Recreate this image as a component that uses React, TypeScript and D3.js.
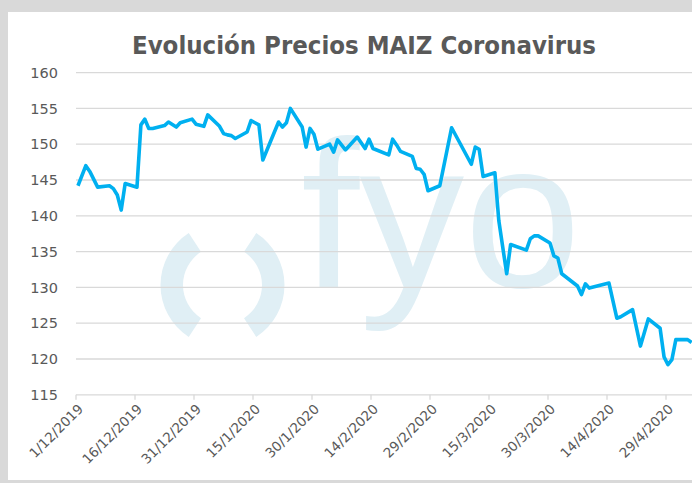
import React, { useEffect, useRef } from 'react';
import * as d3 from 'd3';

const dates = [
    '2019-12-01', '2019-12-03', '2019-12-04', '2019-12-06', '2019-12-09', '2019-12-10', '2019-12-11',
    '2019-12-12', '2019-12-13', '2019-12-16', '2019-12-17', '2019-12-18', '2019-12-19', '2019-12-20',
    '2019-12-23', '2019-12-24', '2019-12-26', '2019-12-27', '2019-12-30', '2019-12-31',
    '2020-01-02', '2020-01-03', '2020-01-06', '2020-01-07', '2020-01-08', '2020-01-09', '2020-01-10',
    '2020-01-13', '2020-01-14', '2020-01-15', '2020-01-16', '2020-01-17', '2020-01-21', '2020-01-22',
    '2020-01-23', '2020-01-24', '2020-01-27', '2020-01-28', '2020-01-29', '2020-01-30', '2020-01-31',
    '2020-02-03', '2020-02-04', '2020-02-05', '2020-02-07', '2020-02-10', '2020-02-12', '2020-02-13',
    '2020-02-14', '2020-02-18', '2020-02-19', '2020-02-20', '2020-02-21', '2020-02-24', '2020-02-25',
    '2020-02-26', '2020-02-27', '2020-02-28', '2020-03-02', '2020-03-05', '2020-03-10', '2020-03-11',
    '2020-03-12', '2020-03-13', '2020-03-16', '2020-03-17', '2020-03-19', '2020-03-20', '2020-03-24',
    '2020-03-25', '2020-03-26', '2020-03-27', '2020-03-30', '2020-03-31', '2020-04-01', '2020-04-02',
    '2020-04-06', '2020-04-07', '2020-04-08', '2020-04-09', '2020-04-14', '2020-04-16', '2020-04-17',
    '2020-04-20', '2020-04-22', '2020-04-24', '2020-04-27', '2020-04-28', '2020-04-29', '2020-04-30',
    '2020-05-01', '2020-05-04', '2020-05-05',
];

const prices = [
    144.2, 147.0, 146.2, 144.0, 144.2, 143.8, 142.9,
    140.8, 144.5, 144.0, 152.7, 153.5, 152.2, 152.2,
    152.6, 153.1, 152.4, 153.0, 153.5, 152.8,
    152.5, 154.1, 152.5, 151.5, 151.3, 151.2, 150.8,
    151.7, 153.3, 153.0, 152.7, 147.8, 153.1, 152.4,
    153.0, 155.0, 152.4, 149.6, 152.2, 151.4, 149.3,
    150.0, 148.9, 150.6, 149.2, 151.0, 149.4, 150.7,
    149.4, 148.5, 150.7, 149.9, 149.0, 148.3, 146.6,
    146.5, 145.8, 143.5, 144.2, 152.3, 147.2, 149.6,
    149.3, 145.5, 146.0, 139.3, 131.9, 136.0, 135.2,
    136.8, 137.2, 137.2, 136.2, 134.4, 134.1, 131.9,
    130.2, 129.0, 130.5, 129.9, 130.6, 125.7, 125.9,
    126.9, 121.8, 125.6, 124.3, 120.3, 119.2, 119.9,
    122.7, 122.7, 122.3,
];

const tickDates = [
    '2019-12-01', '2019-12-16', '2019-12-31', '2020-01-15', '2020-01-30', '2020-02-14',
    '2020-02-29', '2020-03-15', '2020-03-30', '2020-04-14', '2020-04-29',
];

const yTicks = [115, 120, 125, 130, 135, 140, 145, 150, 155, 160];

const App = () => {
    const svgRef = useRef(null);

    useEffect(() => {
        const svg = d3.select(svgRef.current);
        svg.selectAll('*').remove();
        const width = 692;
        const height = 483;
        const parse = d3.utcParse('%Y-%m-%d');
        const fmt = d3.utcFormat('%-d/%-m/%Y');
        const plotTop = 72.6;
        const plotBottom = 394.8;
        const plotLeft = 76;

        const data = dates.map((d, i) => ({ date: parse(d), value: prices[i] }));

        const xScale = d3
            .scaleUtc()
            .domain([parse('2019-12-01'), parse('2020-04-29')])
            .range([plotLeft, 666]);

        const yScale = d3.scaleLinear().domain([115, 160]).range([plotBottom, plotTop]);

        // background + chart area
        svg.append('rect').attr('width', width).attr('height', height).attr('fill', '#d9d9d9');
        svg.append('rect').attr('x', 8).attr('y', 12).attr('width', width).attr('height', 468).attr('fill', '#ffffff');

        // watermark
        const wm = svg.append('g').attr('fill', '#e0eff5');
        const ring = d3.arc().innerRadius(39.5).outerRadius(62);
        const a = (57 * Math.PI) / 180;
        wm.append('path')
            .attr('transform', 'translate(222.5,285)')
            .attr('d', ring({ startAngle: 1.5 * Math.PI - a, endAngle: 1.5 * Math.PI + a }));
        wm.append('path')
            .attr('transform', 'translate(222.5,285)')
            .attr('d', ring({ startAngle: 0.5 * Math.PI - a, endAngle: 0.5 * Math.PI + a }));
        wm.append('text')
            .attr('x', 301)
            .attr('y', 287)
            .style('font-family', '"Liberation Sans", Arial, sans-serif')
            .style('font-size', '210px')
            .text('fyo');

        // gridlines
        svg.append('g')
            .selectAll('line')
            .data(yTicks)
            .enter()
            .append('line')
            .attr('x1', plotLeft)
            .attr('x2', width + 10)
            .attr('y1', (d) => yScale(d))
            .attr('y2', (d) => yScale(d))
            .attr('stroke', '#d9d9d9')
            .attr('stroke-width', 1.3);

        // y labels
        svg.append('g')
            .selectAll('text')
            .data(yTicks)
            .enter()
            .append('text')
            .attr('x', 58)
            .attr('y', (d) => yScale(d))
            .attr('dy', '0.36em')
            .attr('text-anchor', 'end')
            .attr('fill', '#595959')
            .style('font-family', '"DejaVu Sans", Verdana, sans-serif')
            .style('font-size', '14.5px')
            .text((d) => d);

        // x ticks + labels
        const xt = svg.append('g');
        tickDates.forEach((t) => {
            const tx = xScale(parse(t));
            xt.append('line')
                .attr('x1', tx)
                .attr('x2', tx)
                .attr('y1', plotBottom)
                .attr('y2', plotBottom + 5)
                .attr('stroke', '#d9d9d9')
                .attr('stroke-width', 1.3);
            xt.append('text')
                .attr('transform', `translate(${tx + 8},${plotBottom + 15}) rotate(-45)`)
                .attr('text-anchor', 'end')
                .attr('fill', '#595959')
                .style('font-family', '"DejaVu Sans", Verdana, sans-serif')
                .style('font-size', '13.5px')
                .text(fmt(parse(t)));
        });

        // price line
        const line = d3
            .line()
            .x((d) => xScale(d3.utcHour.offset(d.date, 12)))
            .y((d) => yScale(d.value));

        svg.append('path')
            .datum(data)
            .attr('fill', 'none')
            .attr('stroke', '#00b0f0')
            .attr('stroke-width', 3.6)
            .attr('stroke-linejoin', 'round')
            .attr('d', line);

        // title
        svg.append('text')
            .attr('x', 364)
            .attr('y', 54)
            .attr('text-anchor', 'middle')
            .attr('fill', '#595959')
            .style('font-family', '"DejaVu Sans Condensed", "DejaVu Sans", sans-serif')
            .style('font-weight', 'bold')
            .style('font-size', '25.5px')
            .text('Evolución Precios MAIZ Coronavirus');
    }, []);

    return (
        <svg
            ref={svgRef}
            width={692}
            height={483}
            style={{ position: 'absolute', left: 0, top: 0, display: 'block' }}
        />
    );
};

export default App;
